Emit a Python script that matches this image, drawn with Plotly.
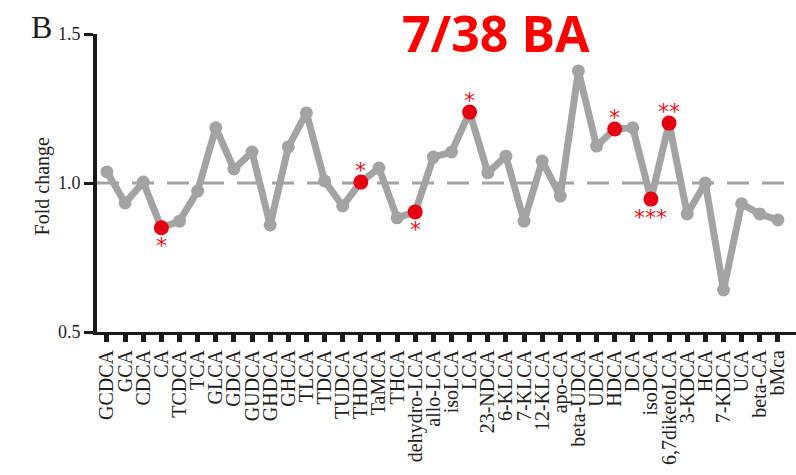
import plotly.graph_objects as go

categories = ["GCDCA", "GCA", "CDCA", "CA", "TCDCA", "TCA", "GLCA", "GDCA", "GUDCA", "GHDCA",
              "GHCA", "TLCA", "TDCA", "TUDCA", "THDCA", "TaMCA", "THCA", "dehydro-LCA", "allo-LCA",
              "isoLCA", "LCA", "23-NDCA", "6-KLCA", "7-KLCA", "12-KLCA", "apo-CA", "beta-UDCA",
              "UDCA", "HDCA", "DCA", "isoDCA", "6,7diketoLCA", "3-KDCA", "HCA", "7-KDCA", "UCA",
              "beta-CA", "bMca"]
fold_change = [1.037, 0.933, 1.003, 0.850, 0.872, 0.973, 1.185, 1.047, 1.104, 0.859,
               1.121, 1.235, 1.007, 0.923, 1.003, 1.050, 0.883, 0.903, 1.087,
               1.104, 1.238, 1.034, 1.090, 0.872, 1.074, 0.956, 1.376,
               1.124, 1.181, 1.185, 0.946, 1.201, 0.896, 1.000, 0.641, 0.930,
               0.896, 0.876]
# significant compounds
sig_names = ["CA", "THDCA", "dehydro-LCA", "LCA", "HDCA", "isoDCA", "6,7diketoLCA"]
sig_stars = ["*", "*", "*", "*", "*", "***", "**"]
sig_above = [False, True, False, True, True, False, True]
title_text = "7/38 BA"
y_ticks = [0.5, 1.0, 1.5]

idx = list(range(len(categories)))
sig_idx = [categories.index(n) for n in sig_names]
sig_vals = [fold_change[i] for i in sig_idx]

fig = go.Figure()
fig.add_trace(go.Scatter(
    x=idx, y=fold_change, mode="lines+markers",
    line=dict(color="#a3a3a3", width=7),
    marker=dict(color="#a3a3a3", size=13),
    showlegend=False, hoverinfo="skip"))
fig.add_trace(go.Scatter(
    x=sig_idx, y=sig_vals, mode="markers",
    marker=dict(color="#e60012", size=15),
    showlegend=False, hoverinfo="skip"))

# reference line at 1.0
fig.add_shape(type="line", xref="paper", yref="y", x0=0, x1=0.995, y0=1.0, y1=1.0,
              line=dict(color="#a3a3a3", width=3, dash="22px,13px"), layer="below")

for i, v, s, above in zip(sig_idx, sig_vals, sig_stars, sig_above):
    fig.add_annotation(x=i, y=v, text=s, showarrow=False,
                       yshift=(12 if above else -18),
                       font=dict(family="DejaVu Sans", size=22, color="#e8101a"))

fig.add_annotation(xref="paper", yref="paper", x=0.571, y=1.005, text="<b>" + title_text + "</b>",
                   showarrow=False, yanchor="middle",
                   font=dict(family="Open Sans", size=50, color="#ff0000"))
fig.add_annotation(xref="paper", yref="paper", x=-0.097, y=1.025, text="B",
                   showarrow=False, yanchor="middle",
                   font=dict(family="Liberation Serif", size=32, color="#231f20"))
fig.add_annotation(xref="paper", yref="paper", x=-0.096, y=0.49, text="Fold change",
                   showarrow=False, textangle=-90,
                   font=dict(family="Liberation Serif", size=20, color="#231f20"))

fig.update_layout(
    width=796, height=475,
    margin=dict(l=97, r=0, t=34, b=143, autoexpand=False),
    paper_bgcolor="white", plot_bgcolor="white",
    xaxis=dict(range=[-0.55, 38.0], tickmode="array", tickvals=idx, ticktext=categories,
               tickangle=-90, showgrid=False, zeroline=False, automargin=False,
               showline=True, linecolor="#1a1a1a", linewidth=3,
               ticks="outside", ticklen=7, tickwidth=5, tickcolor="#1a1a1a",
               tickfont=dict(family="Liberation Serif", size=20, color="#231f20")),
    yaxis=dict(range=[0.5, 1.5], tickmode="array", tickvals=y_ticks,
               ticktext=["0.5", "1.0", "1.5"], showgrid=False, zeroline=False, automargin=False,
               showline=True, linecolor="#1a1a1a", linewidth=4,
               ticks="outside", ticklen=9, tickwidth=3, tickcolor="#1a1a1a",
               tickfont=dict(family="Liberation Serif", size=18, color="#231f20")),
)

fig.write_html("out.html", config={"displayModeBar": False},
               post_script="document.body.style.margin='0';document.body.style.overflow='hidden';")
